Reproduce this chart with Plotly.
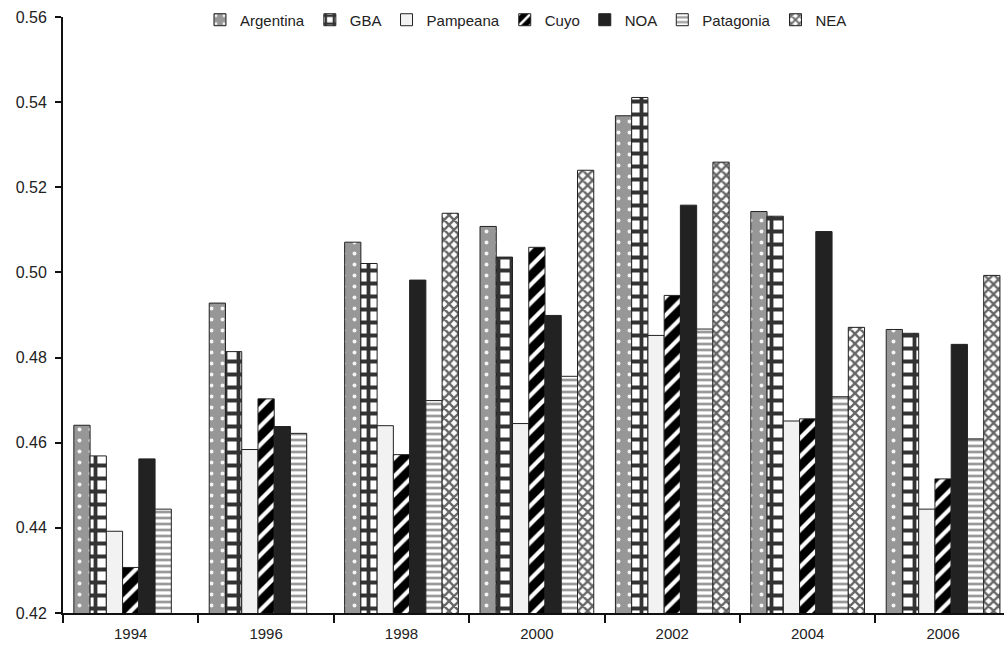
import plotly.graph_objects as go

# Survey years on the category axis
years = ["1994", "1996", "1998", "2000", "2002", "2004", "2006"]

# Inequality index by region
argentina = [0.4641, 0.4928, 0.5071, 0.5108, 0.5368, 0.5143, 0.4866]
gba       = [0.4569, 0.4814, 0.5021, 0.5036, 0.5411, 0.5132, 0.4857]
pampeana  = [0.4392, 0.4584, 0.4640, 0.4645, 0.4852, 0.4651, 0.4444]
cuyo      = [0.4307, 0.4703, 0.4572, 0.5059, 0.4946, 0.4656, 0.4515]
noa       = [0.4562, 0.4638, 0.4982, 0.4899, 0.5158, 0.5096, 0.4831]
patagonia = [0.4444, 0.4622, 0.4699, 0.4756, 0.4867, 0.4708, 0.4609]
nea       = [None, None, 0.5139, 0.5240, 0.5259, 0.4871, 0.4993]

y_ticks = [0.42, 0.44, 0.46, 0.48, 0.50, 0.52, 0.54, 0.56]

series = [
    ("Argentina", argentina, dict(color="#979797", pattern=dict(shape=".", fgcolor="#f4f4f4", bgcolor="#979797", size=11, solidity=0.1, fgopacity=1))),
    ("GBA", gba, dict(color="#ffffff", pattern=dict(shape="+", fgcolor="#333333", bgcolor="#ffffff", size=13, solidity=0.5, fgopacity=1))),
    ("Pampeana", pampeana, dict(color="#f2f2f2")),
    ("Cuyo", cuyo, dict(color="#000000", pattern=dict(shape="/", fgcolor="#ffffff", bgcolor="#000000", size=13, solidity=0.32, fgopacity=1))),
    ("NOA", noa, dict(color="#222222")),
    ("Patagonia", patagonia, dict(color="#ffffff", pattern=dict(shape="-", fgcolor="#999999", bgcolor="#ffffff", size=6, solidity=0.45, fgopacity=1))),
    ("NEA", nea, dict(color="#ffffff", pattern=dict(shape="x", fgcolor="#666666", bgcolor="#ffffff", size=7, solidity=0.55, fgopacity=1))),
]

fig = go.Figure()
for name, values, marker in series:
    marker = dict(marker)
    marker["line"] = dict(color="#222222", width=1)
    fig.add_trace(go.Bar(name=name, x=years, y=values, marker=marker))

fig.update_layout(
    width=1004,
    height=650,
    barmode="group",
    bargap=0.16,
    bargroupgap=0,
    plot_bgcolor="#ffffff",
    paper_bgcolor="#ffffff",
    margin=dict(l=63, r=0, t=17, b=37),
    font=dict(family="Liberation Sans, Arial, sans-serif", size=16, color="#222222"),
    legend=dict(
        orientation="h",
        x=0.492,
        xanchor="center",
        y=0.995,
        yanchor="middle",
        font=dict(size=15),
        bgcolor="rgba(0,0,0,0)",
        itemclick=False,
    ),
    xaxis=dict(
        type="category",
        range=[-0.5, 6.45],
        showline=True,
        linecolor="#111111",
        linewidth=2,
        ticks="outside",
        tickson="boundaries",
        ticklen=8,
        tickwidth=1.5,
        tickcolor="#111111",
        ticklabelstandoff=6,
        tickfont=dict(size=15),
        showgrid=False,
        zeroline=False,
    ),
    yaxis=dict(
        range=[0.42, 0.56],
        tickvals=y_ticks,
        tickformat=".2f",
        showline=True,
        linecolor="#111111",
        linewidth=2,
        ticks="outside",
        ticklen=6,
        tickwidth=1.5,
        tickcolor="#111111",
        ticklabelstandoff=5,
        tickfont=dict(size=16),
        showgrid=False,
        zeroline=False,
    ),
)

fig.write_html("out.html")
